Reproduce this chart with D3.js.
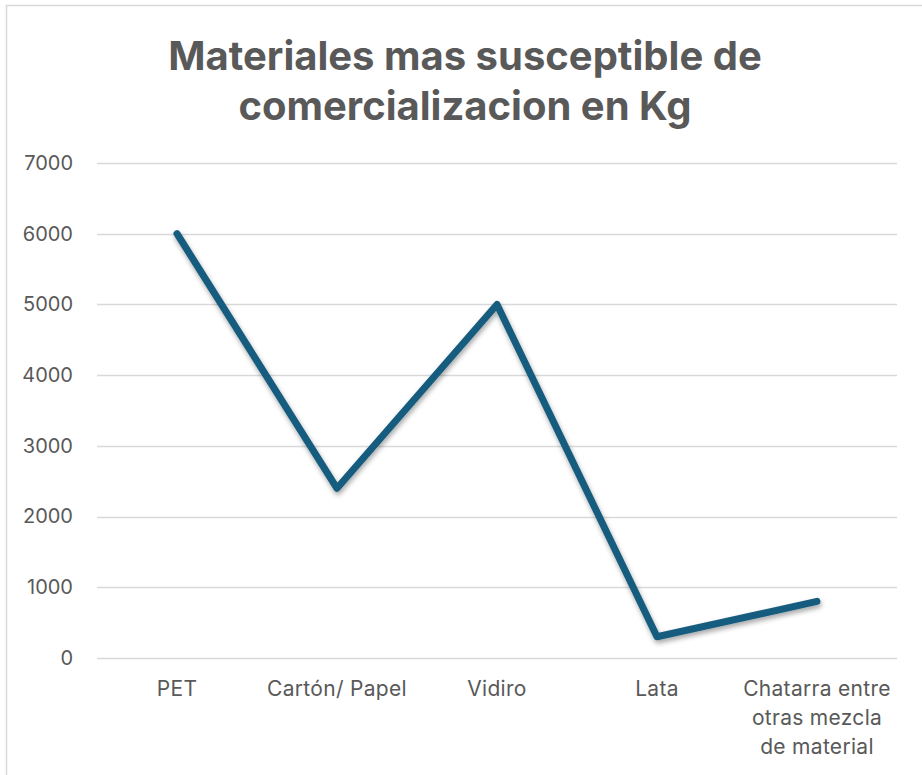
<!DOCTYPE html>
<html>
<head>
<meta charset="utf-8">
<script src="https://cdn.jsdelivr.net/npm/d3@7"></script>
<style>
  body { margin: 0; background: #fff; }
  svg { display: block; font-family: Inter, "Open Sans", sans-serif; }
</style>
</head>
<body>
<div id="chart"></div>
<script>
const categories = [
  ["PET"],
  ["Cartón/ Papel"],
  ["Vidiro"],
  ["Lata"],
  ["Chatarra entre", "otras mezcla", "de material"],
];
const values = [6000, 2400, 5000, 300, 800];
const yTicks = [0, 1000, 2000, 3000, 4000, 5000, 6000, 7000];
const titleLines = ["Materiales mas susceptible de", "comercializacion en Kg"];

const width = 922;
const height = 775;
const margin = { top: 163, right: 25, bottom: 117, left: 97 };
const innerW = width - margin.left - margin.right;
const innerH = height - margin.top - margin.bottom;

const svg = d3
  .select("#chart")
  .append("svg")
  .attr("width", width)
  .attr("height", height);

// outer frame of the chart
svg
  .append("rect")
  .attr("x", 6.5)
  .attr("y", 5.5)
  .attr("width", 940)
  .attr("height", 800)
  .attr("fill", "#fff")
  .attr("stroke", "#d9d9d9")
  .attr("stroke-width", 1.5);

const defs = svg.append("defs");
const shadow = defs
  .append("filter")
  .attr("id", "shadow")
  .attr("x", "-10%")
  .attr("y", "-10%")
  .attr("width", "120%")
  .attr("height", "130%");
shadow
  .append("feDropShadow")
  .attr("dx", 1)
  .attr("dy", 3)
  .attr("stdDeviation", 2.5)
  .attr("flood-color", "#000")
  .attr("flood-opacity", 0.35);

const title = svg
  .append("text")
  .attr("text-anchor", "middle")
  .attr("fill", "#595959")
  .style("font-size", "40px")
  .style("font-weight", 700);
titleLines.forEach((t, i) => {
  title
    .append("tspan")
    .attr("x", 465)
    .attr("y", 70 + i * 50)
    .text(t);
});

const g = svg
  .append("g")
  .attr("transform", `translate(${margin.left},${margin.top})`);

const x = d3
  .scaleBand()
  .domain(categories.map((d, i) => i))
  .range([0, innerW]);

const y = d3.scaleLinear().domain([0, 7000]).range([innerH, 0]);

// gridlines
g.append("g")
  .selectAll("line")
  .data(yTicks)
  .join("line")
  .attr("x1", 0)
  .attr("x2", innerW)
  .attr("y1", (d) => Math.round(y(d)) + 0.5)
  .attr("y2", (d) => Math.round(y(d)) + 0.5)
  .attr("stroke", "#d9d9d9")
  .attr("stroke-width", 1.5);

// y axis labels
const yAxis = g
  .append("g")
  .call(
    d3
      .axisLeft(y)
      .tickValues(yTicks)
      .tickFormat(d3.format("d"))
      .tickSize(0)
      .tickPadding(24)
  );
yAxis.select(".domain").remove();
yAxis
  .selectAll("text")
  .attr("fill", "#595959")
  .style("font-size", "20px")
  .style("font-family", "Inter, sans-serif");

// x axis labels
const xLabels = g
  .append("g")
  .selectAll("text")
  .data(categories)
  .join("text")
  .attr("text-anchor", "middle")
  .attr("fill", "#595959")
  .style("font-size", "21px")
  .style("letter-spacing", "0.3px");
xLabels.each(function (lines, i) {
  const t = d3.select(this);
  lines.forEach((line, j) => {
    t.append("tspan")
      .attr("x", x(i) + x.bandwidth() / 2)
      .attr("y", innerH + 38 + j * 29)
      .text(line);
  });
});

const line = d3
  .line()
  .x((d, i) => x(i) + x.bandwidth() / 2)
  .y((d) => y(d));

g.append("path")
  .datum(values)
  .attr("d", line)
  .attr("fill", "none")
  .attr("stroke", "#185c7e")
  .attr("stroke-width", 7)
  .attr("stroke-linecap", "round")
  .attr("stroke-linejoin", "round")
  .attr("filter", "url(#shadow)");
</script>
</body>
</html>
